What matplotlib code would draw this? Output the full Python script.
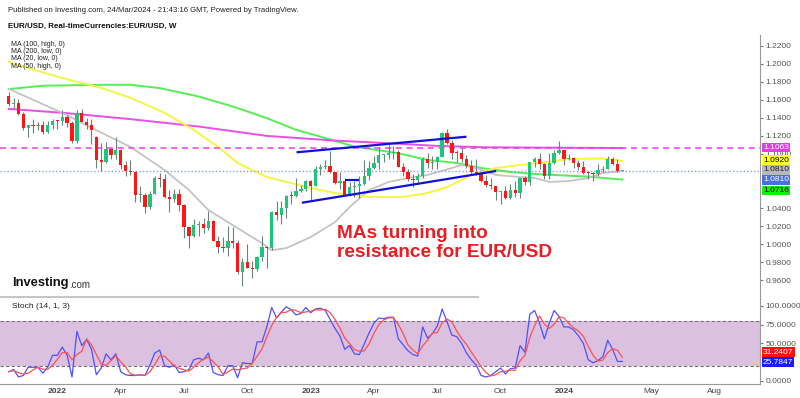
import numpy as np
import pandas as pd
import matplotlib
matplotlib.use("Agg")
import matplotlib.pyplot as plt
from matplotlib.lines import Line2D

plt.rcParams['font.family'] = ['Liberation Sans', 'DejaVu Sans']

# weekly EUR/USD candles, week of 25 Oct 2021 .. 25 Mar 2024 (index = week number)
opens = [1.1646, 1.1558, 1.1567, 1.1444, 1.1290, 1.1317, 1.1315, 1.1317, 1.1239, 1.1323,
         1.1370, 1.1360, 1.1412, 1.1345, 1.1145, 1.1450, 1.1349, 1.1320, 1.1190, 1.0929,
         1.0911, 1.1050, 1.0983, 1.1047, 1.0877, 1.0806, 1.0797, 1.0545, 1.0550, 1.0410,
         1.0560, 1.0730, 1.0720, 1.0518, 1.0495, 1.0555, 1.0430, 1.0185, 1.0085, 1.0210,
         1.0220, 1.0180, 1.0260, 1.0040, 0.9965, 0.9955, 1.0040, 1.0015, 0.9690, 0.9800,
         0.9740, 0.9720, 0.9860, 0.9965, 0.9960, 1.0355, 1.0325, 1.0400, 1.0535, 1.0530,
         1.0585, 1.0615, 1.0705, 1.0645, 1.0830, 1.0855, 1.0870, 1.0795, 1.0680, 1.0695,
         1.0545, 1.0635, 1.0640, 1.0670, 1.0760, 1.0840, 1.0900, 1.0990, 1.0990, 1.1015,
         1.1020, 1.0850, 1.0805, 1.0720, 1.0710, 1.0750, 1.0940, 1.0895, 1.0910, 1.0970,
         1.1230, 1.1125, 1.1015, 1.1005, 1.0945, 1.0870, 1.0795, 1.0775, 1.0700, 1.0660,
         1.0645, 1.0575, 1.0585, 1.0510, 1.0595, 1.0565, 1.0730, 1.0685, 1.0910, 1.0945,
         1.0885, 1.0760, 1.0895, 1.1010, 1.1040, 1.0940, 1.0950, 1.0895, 1.0855, 1.0790,
         1.0785, 1.0775, 1.0820, 1.0835, 1.0940, 1.0890, 1.0810]
highs = [1.1692, 1.1616, 1.1608, 1.1464, 1.1320, 1.1383, 1.1355, 1.1360, 1.1360, 1.1386,
         1.1375, 1.1483, 1.1436, 1.1360, 1.1483, 1.1495, 1.1395, 1.1390, 1.1200, 1.1121,
         1.1137, 1.1070, 1.1185, 1.1050, 1.0925, 1.0937, 1.0810, 1.0642, 1.0570, 1.0590,
         1.0760, 1.0786, 1.0774, 1.0600, 1.0610, 1.0615, 1.0450, 1.0200, 1.0280, 1.0255,
         1.0290, 1.0370, 1.0270, 1.0090, 1.0080, 1.0200, 1.0195, 1.0050, 0.9850, 0.9998,
         0.9810, 0.9870, 1.0095, 0.9975, 1.0365, 1.0480, 1.0480, 1.0545, 1.0590, 1.0735,
         1.0660, 1.0715, 1.0715, 1.0870, 1.0885, 1.0930, 1.1030, 1.0795, 1.0805, 1.0700,
         1.0690, 1.0705, 1.0760, 1.0930, 1.0925, 1.0975, 1.1075, 1.1000, 1.1095, 1.1090,
         1.1040, 1.0905, 1.0830, 1.0780, 1.0785, 1.0970, 1.1010, 1.0975, 1.0975, 1.1245,
         1.1275, 1.1150, 1.1045, 1.1065, 1.0990, 1.0930, 1.0945, 1.0795, 1.0770, 1.0735,
         1.0650, 1.0590, 1.0640, 1.0670, 1.0695, 1.0735, 1.0755, 1.0915, 1.0965, 1.1015,
         1.0895, 1.1010, 1.1040, 1.1140, 1.1045, 1.0999, 1.0970, 1.0935, 1.0925, 1.0810,
         1.0805, 1.0890, 1.0865, 1.0980, 1.0965, 1.0945, 1.0812]
lows = [1.1535, 1.1513, 1.1433, 1.1264, 1.1186, 1.1235, 1.1262, 1.1222, 1.1234, 1.1271,
        1.1272, 1.1316, 1.1300, 1.1121, 1.1122, 1.1373, 1.1280, 1.1106, 1.0840, 1.0806,
        1.0900, 1.0945, 1.0944, 1.0837, 1.0757, 1.0770, 1.0470, 1.0470, 1.0350, 1.0390,
        1.0560, 1.0630, 1.0510, 1.0360, 1.0470, 1.0365, 1.0070, 0.9952, 1.0080, 1.0095,
        1.0125, 1.0160, 1.0035, 0.9900, 0.9910, 0.9865, 0.9955, 0.9670, 0.9535, 0.9730,
        0.9630, 0.9700, 0.9810, 0.9730, 0.9935, 1.0270, 1.0225, 1.0290, 1.0445, 1.0525,
        1.0575, 1.0590, 1.0480, 1.0640, 1.0765, 1.0830, 1.0790, 1.0670, 1.0610, 1.0535,
        1.0535, 1.0525, 1.0515, 1.0660, 1.0715, 1.0830, 1.0830, 1.0910, 1.0945, 1.0940,
        1.0850, 1.0760, 1.0705, 1.0635, 1.0665, 1.0730, 1.0845, 1.0835, 1.0835, 1.0965,
        1.1110, 1.0945, 1.0915, 1.0910, 1.0845, 1.0765, 1.0770, 1.0685, 1.0630, 1.0615,
        1.0490, 1.0450, 1.0495, 1.0495, 1.0520, 1.0515, 1.0655, 1.0655, 1.0850, 1.0830,
        1.0725, 1.0720, 1.0890, 1.1000, 1.0875, 1.0930, 1.0845, 1.0820, 1.0780, 1.0720,
        1.0695, 1.0760, 1.0795, 1.0830, 1.0880, 1.0800, 1.0806]
closes = [1.1558, 1.1567, 1.1444, 1.1290, 1.1317, 1.1315, 1.1317, 1.1239, 1.1323, 1.1370,
          1.1360, 1.1412, 1.1345, 1.1145, 1.1450, 1.1349, 1.1320, 1.1270, 1.0929, 1.0911,
          1.1050, 1.0983, 1.1047, 1.0877, 1.0806, 1.0797, 1.0545, 1.0550, 1.0410, 1.0560,
          1.0730, 1.0720, 1.0518, 1.0495, 1.0555, 1.0430, 1.0185, 1.0085, 1.0210, 1.0220,
          1.0180, 1.0260, 1.0040, 0.9965, 0.9955, 1.0040, 1.0015, 0.9690, 0.9800, 0.9740,
          0.9720, 0.9860, 0.9965, 0.9960, 1.0355, 1.0325, 1.0400, 1.0535, 1.0530, 1.0585,
          1.0615, 1.0705, 1.0645, 1.0830, 1.0855, 1.0870, 1.0795, 1.0680, 1.0695, 1.0545,
          1.0635, 1.0640, 1.0670, 1.0760, 1.0840, 1.0900, 1.0990, 1.0990, 1.1015, 1.1020,
          1.0850, 1.0805, 1.0720, 1.0710, 1.0750, 1.0940, 1.0895, 1.0910, 1.0970, 1.1230,
          1.1125, 1.1015, 1.1005, 1.0945, 1.0870, 1.0795, 1.0775, 1.0700, 1.0660, 1.0645,
          1.0575, 1.0585, 1.0510, 1.0595, 1.0565, 1.0730, 1.0685, 1.0910, 1.0945, 1.0885,
          1.0760, 1.0895, 1.1010, 1.1040, 1.0940, 1.0950, 1.0895, 1.0855, 1.0790, 1.0785,
          1.0775, 1.0820, 1.0835, 1.0940, 1.0890, 1.0810, 1.0810]

# moving averages (week index, value)
ma20_weeks = [0, 5, 11, 17, 25, 32, 37, 41, 46, 52, 54, 57, 62, 67, 70, 74, 78, 82, 86, 91,
              93, 96, 100, 105, 108, 111, 115, 119, 122, 126]
ma20_low = [1.1722, 1.1600, 1.1456, 1.1289, 1.1078, 1.0822, 1.0600, 1.0378, 1.0211, 1.0011,
            0.9933, 0.9956, 1.0078, 1.0244, 1.0411, 1.0600, 1.0689, 1.0733, 1.0767, 1.0844,
            1.0878, 1.0844, 1.0767, 1.0744, 1.0733, 1.0689, 1.0700, 1.0733, 1.0789, 1.0810]
ma50_weeks = [0, 7, 13, 19, 25, 32, 38, 43, 47, 53, 58, 62, 67, 74, 81, 86, 90, 95, 100, 105,
              109, 115, 122, 126]
ma50_high = [1.2018, 1.1904, 1.1813, 1.1733, 1.1622, 1.1456, 1.1267, 1.1078, 1.0900, 1.0744,
             1.0678, 1.0622, 1.0567, 1.0522, 1.0522, 1.0567, 1.0633, 1.0767, 1.0844, 1.0878,
             1.0900, 1.0944, 1.0950, 1.0920]
ma100_weeks = [0, 7, 12, 19, 25, 31, 39, 46, 53, 59, 64, 71, 80, 86, 92, 97, 103, 108, 112,
               119, 126]
ma100_high = [1.1719, 1.1756, 1.1760, 1.1767, 1.1767, 1.1730, 1.1637, 1.1526, 1.1397, 1.1267,
              1.1192, 1.1081, 1.1008, 1.0933, 1.0900, 1.0844, 1.0800, 1.0778, 1.0767, 1.0748,
              1.0716]
ma200_weeks = [0, 12, 25, 39, 53, 60, 67, 78, 88, 98, 109, 126]
ma200_low = [1.1500, 1.1452, 1.1386, 1.1304, 1.1200, 1.1174, 1.1148, 1.1119, 1.1089, 1.1074,
             1.1070, 1.1066]

# hand drawn lines (week index, price)
channel_top = ([59.1, 94.0], [1.1018, 1.1191])
channel_bottom = ([60.2, 100.1], [1.0459, 1.0811])
flat_line = ([69.1, 72.0], [1.0711, 1.0711])
resistance_level = 1.1063
last_price = 1.0810

# stochastic %K
stoch_k = [12, 15, 5, 7, 18, 18, 18, 10, 18, 34,
           34, 45, 34, 5, 66, 47, 55, 42, 8, 17,
           36, 28, 36, 12, 8, 7, 7, 8, 7, 21,
           37, 41, 20, 18, 21, 11, 12, 15, 28, 30,
           28, 37, 11, 8, 7, 20, 20, 4, 24, 23,
           23, 52, 52, 72, 98, 84, 92, 99, 95, 88,
           90, 98, 91, 96, 97, 94, 82, 70, 60, 42,
           47, 36, 35, 49, 64, 77, 84, 83, 85, 85,
           56, 48, 40, 35, 33, 72, 57, 63, 73, 96,
           79, 61, 59, 50, 37, 28, 21, 7, 5, 7,
           12, 17, 9, 16, 17, 47, 38, 89, 94, 77,
           56, 77, 94, 86, 72, 72, 68, 60, 50, 28,
           24, 27, 32, 54, 42.1527, 25.7847, 25.7847]
stoch_d = pd.Series(stoch_k).rolling(3, min_periods=1).mean().values

tick_weeks = [10, 23, 36, 49, 62, 75, 88, 101, 114, 132, 145]
tick_names = ['2022', 'Apr', 'Jul', 'Oct', '2023', 'Apr', 'Jul', 'Oct', '2024', 'May', 'Aug']
price_ticks = [0.96, 0.98, 1.00, 1.02, 1.04, 1.10, 1.12, 1.14, 1.16, 1.18, 1.20, 1.22]
stoch_ticks = [0, 50, 75, 100]
legend_names = ['MA (100, high, 0)', 'MA (200, low, 0)', 'MA (20, low, 0)', 'MA (50, high, 0)']

W, H = 800, 398
def fx(px):
    return px / W
def fy(py):
    return 1 - py / H

fig = plt.figure(figsize=(8, 3.98), dpi=100)
ax1 = fig.add_axes([0, fy(298.5), fx(760), (298.5 - 35) / H])
ax2 = fig.add_axes([0, fy(384), fx(760), (384 - 298.5) / H])

x0, step = 8.7, 4.87
xlim = ((0 - x0) / step, (760 - x0) / step)

# ---- price pane ----
weeks = np.arange(len(closes))
o = np.array(opens); c = np.array(closes)
up = c >= o
green, red = '#1fc57c', '#ff1717'
ax1.vlines(weeks, lows, highs, color='#6d8278', lw=0.8, zorder=3)
body = np.maximum(np.abs(c - o), 0.0011)
ax1.bar(weeks, body, bottom=np.minimum(o, c), width=0.68,
        color=np.where(up, green, red), zorder=4, linewidth=0)

ax1.plot(ma100_weeks, ma100_high, color='#55ee55', lw=1.4, zorder=2)
ax1.plot(ma200_weeks, ma200_low, color='#e650e6', lw=1.4, zorder=2)
ax1.plot(ma20_weeks, ma20_low, color='#c4c4c4', lw=1.3, zorder=2)
ax1.plot(ma50_weeks, ma50_high, color='#f5f542', lw=1.4, zorder=2)

ax1.axhline(resistance_level, color='#ee3cee', lw=1.1, dashes=(4, 3), zorder=2)
ax1.axhline(last_price, color='#8a9cf0', lw=1.0, ls=(0, (1, 1.5)), zorder=2)

for xs, ys in [channel_top, channel_bottom, flat_line]:
    ax1.plot(xs, ys, color='#1010d8', lw=1.6, zorder=5, solid_capstyle='butt')

ax1.set_xlim(*xlim)
ax1.set_ylim(1.22 - (298.5 - 45.7) / 902, 1.22 + (45.7 - 35) / 902)
ax1.yaxis.tick_right()
ax1.set_yticks(price_ticks)
ax1.set_yticklabels(['%.4f' % v for v in price_ticks])
ax1.tick_params(axis='y', length=2, width=0.8, color='#777777', labelsize=6,
                labelcolor='#555555', pad=2)
ax1.set_xticks([])
for s in ['top', 'left', 'bottom']:
    ax1.spines[s].set_visible(False)
ax1.spines['right'].set_color('#999999')

# price labels on the right (stacked like the original)
boxes = [(147.3, '%.4f' % resistance_level, '#e23ee6', 'white'),
         (160.0, '%.4f' % ma50_high[-1], '#ffff22', 'black'),
         (170.0, '%.4f' % ma20_low[-1], '#b8b8b8', '#222222'),
         (180.0, '%.4f' % last_price, '#4a6fe0', 'white'),
         (190.7, '%.4f' % ma100_high[-1], '#11ee11', 'black')]
for py, txt, bg, fg in boxes:
    fig.text(fx(763), fy(py), txt, fontsize=6, color=fg, va='center', ha='left',
             bbox=dict(boxstyle='square,pad=0.14', fc=bg, ec='none'))

# ---- stochastic pane ----
ax2.axhspan(20, 80, color='#dcc0e0', lw=0, zorder=1)
for lvl in (20, 80):
    ax2.axhline(lvl, color='#7d6d7d', lw=0.8, dashes=(3, 2), zorder=2)
ax2.plot(weeks, stoch_k, color='#5050ff', lw=0.9, zorder=3)
ax2.plot(weeks, stoch_d, color='#ff5050', lw=0.9, zorder=3)
ax2.set_xlim(*xlim)
ax2.set_ylim((380.7 - 384) / 0.747, (380.7 - 298.5) / 0.747)
ax2.yaxis.tick_right()
ax2.set_yticks(stoch_ticks)
ax2.set_yticklabels(['%.4f' % v for v in stoch_ticks])
ax2.tick_params(axis='y', length=2, width=0.8, color='#777777', labelsize=6,
                labelcolor='#555555', pad=2)
ax2.set_xticks(tick_weeks)
ax2.set_xticklabels(tick_names)
ax2.tick_params(axis='x', length=0, labelsize=6, labelcolor='#444444', pad=3)
for lab in ax2.get_xticklabels():
    if lab.get_text().isdigit():
        lab.set_fontweight('bold')
for s in ['top', 'left']:
    ax2.spines[s].set_visible(False)
ax2.spines['right'].set_color('#999999')
ax2.spines['bottom'].set_color('#999999')

fig.text(fx(763), fy(352), '%.4f' % stoch_d[-1], fontsize=6, color='white', va='center',
         ha='left', bbox=dict(boxstyle='square,pad=0.14', fc='#ff1010', ec='none'))
fig.text(fx(763), fy(362), '%.4f' % stoch_k[-1], fontsize=6, color='white', va='center',
         ha='left', bbox=dict(boxstyle='square,pad=0.14', fc='#1a1aff', ec='none'))
fig.text(fx(12), fy(307), 'Stoch (14, 1, 3)', fontsize=6, color='#222222', va='center')

fig.add_artist(Line2D([0, fx(478)], [fy(297), fy(297)], color='#c6c6c6', lw=1.5))

# ---- header texts ----
fig.text(fx(8), fy(10.5), 'Published on Investing.com, 24/Mar/2024 - 21:43:16 GMT, Powered by TradingView.',
         fontsize=5.6, color='#222222', va='center')
fig.text(fx(8), fy(26), 'EUR/USD, Real-timeCurrencies:EUR/USD, W', fontsize=5.8,
         fontweight='bold', color='#111111', va='center')
for i, name in enumerate(legend_names):
    fig.text(fx(11), fy(44 + 7.5 * i), name, fontsize=5, color='#222222', va='center')

fig.text(fx(12), fy(283), 'Investing', fontsize=9.3, fontweight='bold', color='#111111', va='center')
fig.text(fx(69), fy(284.5), '.com', fontsize=7, color='#333333', va='center')

fig.text(fx(337), fy(243), 'MAs turning into\nresistance for EUR/USD', fontsize=13.7,
         fontweight='bold', color='#ea1c24', va='center', ha='left', linespacing=1.1)

fig.savefig('out.png', dpi=100)
